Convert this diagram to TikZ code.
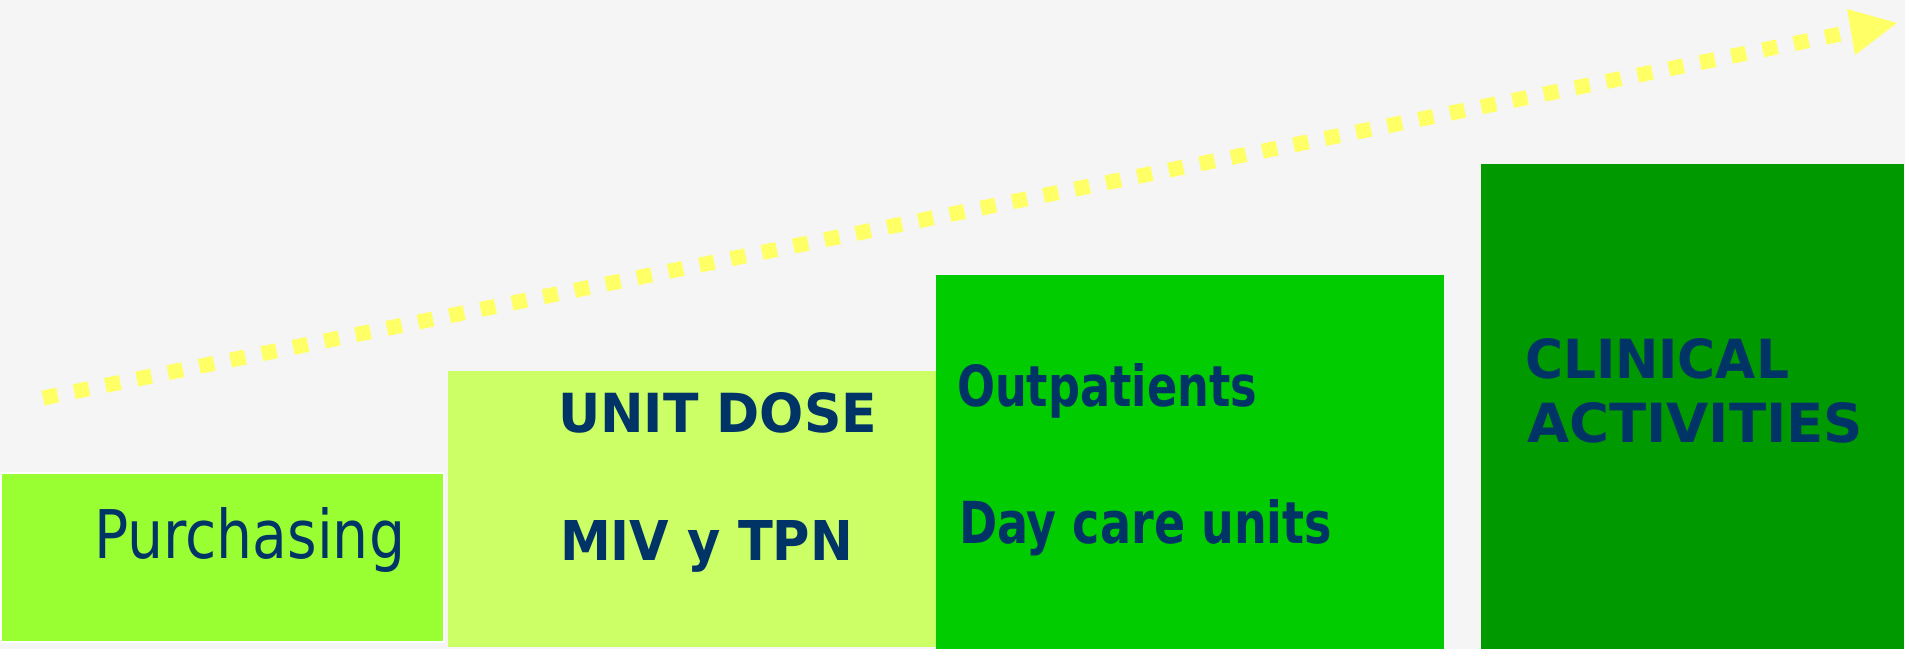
\documentclass[tikz,border=0pt]{standalone}
\usepackage{fontspec}
\setmainfont{DejaVu Sans}
\definecolor{bgc}{HTML}{F5F5F5}
\definecolor{c1}{HTML}{99FF33}
\definecolor{c2}{HTML}{CCFF66}
\definecolor{c3}{HTML}{00CC00}
\definecolor{c4}{HTML}{009900}
\definecolor{txt}{HTML}{003366}
\definecolor{yel}{HTML}{FFFF66}
\tikzset{
  box/.style={rectangle, inner sep=0pt, outer sep=0pt, anchor=north west},
  lbl/.style={inner sep=0pt, outer sep=0pt, anchor=base west, text=txt},
  growth/.style={draw=yel, line width=15pt, line cap=butt, dash pattern=on 15pt off 16.9pt},
  growthtip/.style={fill=yel, draw=none}
}
\newcommand{\fitlbl}[3]{\resizebox{#1pt}{#2pt}{#3}}
\begin{document}
\begin{tikzpicture}[x=1pt,y=-1pt]
\useasboundingbox (0,0) rectangle (1905,649);
\fill[bgc] (0,0) rectangle (1905,649);
% boxes
\node[box, fill=c1, draw=white, line width=2pt, minimum width=443pt, minimum height=169pt] (b1) at (1,473) {};
\node[box, fill=c2, minimum width=488pt, minimum height=276pt] (b2) at (448,371) {};
\node[box, fill=c3, minimum width=508pt, minimum height=374pt] (b3) at (936,275) {};
\node[box, fill=c4, minimum width=423pt, minimum height=485pt] (b4) at (1481,164) {};
% labels
\node[lbl] (t1) at (94,558) {\fitlbl{311}{51}{Purchasing}};
\node[lbl] (t2) at (558,432) {\fitlbl{319}{40}{\bfseries UNIT DOSE}};
\node[lbl] (t3) at (560,560) {\fitlbl{293}{40}{\bfseries MIV y TPN}};
\node[lbl] (t4) at (957,406) {\fitlbl{300}{43}{\bfseries Outpatients}};
\node[lbl] (t5) at (959,543) {\fitlbl{373}{44}{\bfseries Day care units}};
\node[lbl] (t6) at (1525,378) {\fitlbl{264}{40}{\bfseries CLINICAL}};
\node[lbl] (t7) at (1527,442) {\fitlbl{336}{40}{\bfseries ACTIVITIES}};
% arrow
\coordinate (as) at (43,398);
\coordinate (ab) at (1846,33);
\coordinate (ae) at (1897,23);
\coordinate (ac1) at (1847,9);
\coordinate (ac2) at (1855,55);
\draw[growth] (as) -- (ab);
\fill[growthtip] (ae) -- (ac1) -- (ac2) -- cycle;
\end{tikzpicture}
\end{document}
